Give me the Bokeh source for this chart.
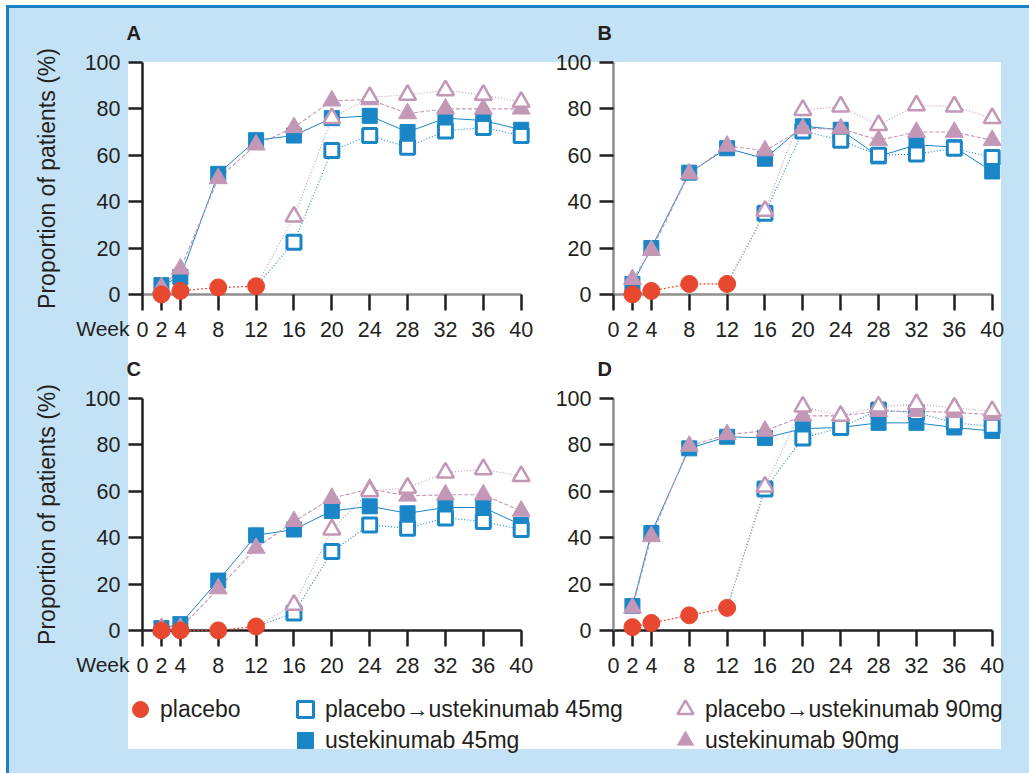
from bokeh.plotting import figure
from bokeh.layouts import column, row
from bokeh.models import Label, Legend, LegendItem, FixedTicker, LinearAxis
from bokeh.embed import file_html
from bokeh.resources import INLINE

FONT = "Liberation Sans"
BLUE = "#1b86c7"
MAUVE = "#c398b7"
RED = "#e8482f"
INK = "#231f20"
GREY = "#8e8e8e"
BG = "#c4e2f5"
FRAME = "#1b7fc3"

# ---------------- data ----------------
weeks = [2, 4, 8, 12, 16, 20, 24, 28, 32, 36, 40]
placebo_weeks = [2, 4, 8, 12]
cross_weeks = [16, 20, 24, 28, 32, 36, 40]
x_ticks = [0, 2, 4, 8, 12, 16, 20, 24, 28, 32, 36, 40]
y_ticks = [0, 20, 40, 60, 80, 100]
panel_letters = ["A", "B", "C", "D"]
legend_labels = ["placebo", "placebo\u2192ustekinumab 45mg", "placebo\u2192ustekinumab 90mg",
                 "ustekinumab 45mg", "ustekinumab 90mg"]
y_label = "Proportion of patients (%)"
x_label = "Week"

# Panel A
a_placebo = [0, 1.5, 3, 3.5]
a_ust45 = [4, 7.5, 52, 66.5, 68.5, 76, 77, 70, 76, 75, 71]
a_ust90 = [3, 11, 50, 64.5, 72, 83.5, 84, 78, 80, 80, 80]
a_pbo45 = [22.5, 62, 68.5, 63.5, 70.5, 72, 68.5]
a_pbo90 = [33.5, 76, 85, 86, 88, 86, 83]

# Panel B
b_placebo = [0, 1.5, 4.5, 4.5]
b_ust45 = [4.5, 20, 52.5, 63, 58.5, 72.5, 71, 59.5, 64.5, 63.5, 53]
b_ust90 = [6.5, 19, 52, 64, 62, 71.5, 71.5, 66.5, 70, 70, 66.5]
b_pbo45 = [35, 70.5, 66.5, 60, 60.5, 63, 59]
b_pbo90 = [36, 79.5, 81, 73, 81.5, 81, 76]

# Panel C
c_placebo = [0, 0, 0, 1.7]
c_ust45 = [1, 2.7, 21.5, 41, 43.5, 51.5, 53.5, 50.5, 53, 53, 45.5]
c_ust90 = [1, 1, 18, 35.5, 47, 57, 61, 58, 58.5, 58.5, 51.5]
c_pbo45 = [7.5, 34, 45.5, 44, 48.5, 47, 43.5]
c_pbo90 = [11, 43.5, 60, 61.5, 68, 69.5, 66.5]

# Panel D
d_placebo = [1.4, 3.2, 6.5, 9.7]
d_ust45 = [10.5, 42, 78.5, 83.5, 83, 87, 87.5, 89.5, 89.5, 87.5, 86]
d_ust90 = [9.7, 40.5, 79.5, 84.5, 86, 92.5, 92.5, 94.5, 94.5, 94, 93]
d_pbo45 = [61, 83, 87.5, 95, 94, 89.5, 88]
d_pbo90 = [62, 96.5, 92.5, 96.5, 97.5, 96, 94.5]

# ---------------- geometry (pixels) ----------------
PXW = 9.467     # px per week
PXY = 2.319     # px per percentage point
LEFT_W, RIGHT_W = 553, 476
ROW1_H, ROW2_H, LEG_H = 344, 336, 93
TOTAL_W = LEFT_W + RIGHT_W

STYLE = {
    "u45": dict(marker="square", size=15, fill_color=BLUE, line_color=BLUE, line_width=1),
    "p45": dict(marker="square", size=14, fill_color="white", line_color=BLUE, line_width=3),
    "u90": dict(marker="triangle", size=18, fill_color=MAUVE, line_color=MAUVE, line_width=1),
    "p90": dict(marker="triangle", size=17, fill_color="white", line_color=MAUVE, line_width=2.5),
    "pl": dict(marker="circle", size=17, fill_color=RED, line_color=RED, line_width=1),
}


def make_panel(letter, pl, u45, u90, p45, p90, with_ylabel, width, height,
               origin_x, top100_y, ycol, xcol):
    # origin_x: pixel of week 0 inside the figure, top100_y: pixel of 100 %
    x0 = -origin_x / PXW
    x1 = (width - origin_x) / PXW
    y1 = 100 + top100_y / PXY
    y0 = 100 - (height - top100_y) / PXY
    p = figure(width=width, height=height, x_range=(x0, x1), y_range=(y0, y1),
               output_backend="svg", toolbar_location=None,
               x_axis_location=None, y_axis_location=None, min_border=0,
               border_fill_color=None, background_fill_color=None,
               outline_line_color=None)
    p.title.visible = False
    p.grid.visible = False

    xa = LinearAxis(fixed_location=0, bounds=(0, 40),
                    ticker=FixedTicker(ticks=x_ticks, minor_ticks=[]))
    ya = LinearAxis(fixed_location=0, bounds=(0, 100),
                    ticker=FixedTicker(ticks=y_ticks, minor_ticks=[]))
    for ax, col in ((xa, xcol), (ya, ycol)):
        ax.axis_line_color = col
        ax.axis_line_width = 2.5
        ax.major_tick_line_color = INK
        ax.major_tick_line_width = 2.5
        ax.major_tick_in = 0
        ax.minor_tick_line_color = None
        ax.major_label_text_font = FONT
        ax.major_label_text_font_size = "21.5px"
        ax.major_label_text_color = INK
        ax.level = "underlay"
    xa.major_tick_out = 16
    xa.major_label_standoff = 12
    ya.major_tick_out = 14
    ya.major_label_standoff = 8
    if with_ylabel:
        ya.axis_label = y_label
        ya.axis_label_text_font = FONT
        ya.axis_label_text_font_size = "23px"
        ya.axis_label_text_font_style = "normal"
        ya.axis_label_text_color = INK
        ya.axis_label_standoff = 22
    p.add_layout(xa, "below")
    p.add_layout(ya, "left")

    # connecting lines
    p.line(placebo_weeks, pl, line_color=RED, line_width=1.2, line_dash="2 2")
    p.line(weeks, u45, line_color=BLUE, line_width=1.0)
    p.line(weeks, u90, line_color=MAUVE, line_width=1.1, line_dash="4 2")
    p.line([placebo_weeks[-1]] + cross_weeks, [pl[-1]] + p45,
           line_color=BLUE, line_width=1.1, line_dash="1 2")
    p.line([placebo_weeks[-1]] + cross_weeks, [pl[-1]] + p90,
           line_color=MAUVE, line_width=1.1, line_dash="1 2")

    # markers
    p.scatter(weeks, u45, **STYLE["u45"])
    p.scatter(cross_weeks, p45, **STYLE["p45"])
    p.scatter(weeks, u90, **STYLE["u90"])
    p.scatter(cross_weeks, p90, **STYLE["p90"])
    p.scatter(placebo_weeks, pl, **STYLE["pl"])

    p.add_layout(Label(x=0, y=112.8, x_offset=-16, text=letter,
                       text_font=FONT, text_font_size="20px", text_font_style="bold",
                       text_color=INK, text_baseline="middle", text_align="left"))
    if with_ylabel:
        p.add_layout(Label(x=0, y=-14.6, x_offset=-13, text=x_label,
                           text_font=FONT, text_font_size="21px", text_color=INK,
                           text_baseline="middle", text_align="right"))
    return p


pA = make_panel(panel_letters[0], a_placebo, a_ust45, a_ust90, a_pbo45, a_pbo90,
                True, LEFT_W, ROW1_H, 142, 62, INK, GREY)
pB = make_panel(panel_letters[1], b_placebo, b_ust45, b_ust90, b_pbo45, b_pbo90,
                False, RIGHT_W, ROW1_H, 60, 62, GREY, GREY)
pC = make_panel(panel_letters[2], c_placebo, c_ust45, c_ust90, c_pbo45, c_pbo90,
                True, LEFT_W, ROW2_H, 142, 54, INK, INK)
pD = make_panel(panel_letters[3], d_placebo, d_ust45, d_ust90, d_pbo45, d_pbo90,
                False, RIGHT_W, ROW2_H, 60, 54, GREY, INK)

# ---------------- legend strip ----------------
leg = figure(width=TOTAL_W, height=LEG_H, x_range=(0, 1), y_range=(0, 1),
             output_backend="svg", toolbar_location=None,
             x_axis_location=None, y_axis_location=None, min_border=0,
             border_fill_color=None, background_fill_color=None,
             outline_line_color=None)
leg.title.visible = False
leg.grid.visible = False
nan = float("nan")
r = {k: leg.scatter(x=[nan], y=[nan], **STYLE[k]) for k in ["pl", "p45", "u45", "p90", "u90"]}


def add_legend(label, rend, loc):
    lg = Legend(items=[LegendItem(label=label, renderers=[rend])], location=loc,
                orientation="vertical", glyph_width=40, glyph_height=40, label_height=40,
                label_standoff=0, spacing=0, padding=0, margin=0,
                border_line_color=None, background_fill_alpha=0,
                label_text_font=FONT, label_text_font_size="23px",
                label_text_color=INK)
    leg.add_layout(lg)


ROW1_VY, ROW2_VY = 44, 13
add_legend(legend_labels[0], r["pl"], (120, ROW1_VY))
add_legend(legend_labels[1], r["p45"], (285, ROW1_VY))
add_legend(legend_labels[3], r["u45"], (285, ROW2_VY))
add_legend(legend_labels[2], r["p90"], (665, ROW1_VY))
add_legend(legend_labels[4], r["u90"], (665, ROW2_VY))

layout = column(
    row(pA, pB), row(pC, pD), leg,
    styles={
        "background-color": "#ffffff",
        "background-image": (f"linear-gradient({FRAME},{FRAME}), "
                             f"linear-gradient({FRAME},{FRAME}), "
                             "linear-gradient(#ffffff,#ffffff), "
                             f"linear-gradient({BG},{BG})"),
        "background-position": "6px 5px, 6px 5px, 128px 62px, 6px 5px",
        "background-size": "100% 3px, 3px 100%, 873px 687px, 100% 100%",
        "background-repeat": "no-repeat",
    },
)

html = file_html(layout, INLINE)
html = html.replace("</head>",
                    "<style>html,body{margin:0 !important;padding:0 !important;"
                    "overflow:hidden;}</style></head>", 1)
open("out.html", "w").write(html)
